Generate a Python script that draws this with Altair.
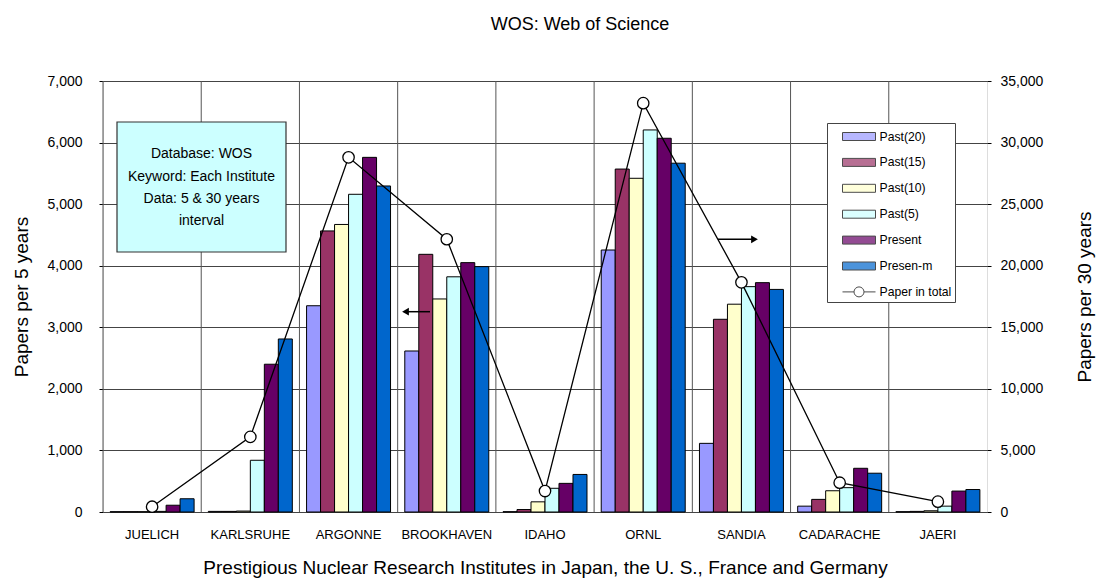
import altair as alt
import pandas as pd

categories = ["JUELICH", "KARLSRUHE", "ARGONNE", "BROOKHAVEN", "IDAHO",
              "ORNL", "SANDIA", "CADARACHE", "JAERI"]
series_names = ["Past(20)", "Past(15)", "Past(10)", "Past(5)", "Present", "Presen-m"]
past20 = [5, 10, 3350, 2615, 5, 4255, 1115, 95, 5]
past15 = [5, 10, 4565, 4185, 40, 5570, 3130, 205, 10]
past10 = [5, 15, 4670, 3460, 165, 5420, 3375, 345, 20]
past5 = [10, 840, 5160, 3820, 385, 6205, 3660, 395, 95]
present = [110, 2400, 5760, 4050, 465, 6070, 3725, 710, 340]
presen_m = [215, 2810, 5295, 3985, 610, 5665, 3615, 630, 365]
line_name = "Paper in total"
total = [430, 6100, 28800, 22150, 1700, 33200, 18650, 2380, 840]
bar_colors = ["#9999FF", "#993366", "#FFFFCC", "#CCFFFF", "#660066", "#0066CC"]
left_ticks = [0, 1000, 2000, 3000, 4000, 5000, 6000, 7000]
right_ticks = [0, 5000, 10000, 15000, 20000, 25000, 30000, 35000]
note_text = "Database: WOS\nKeyword: Each Institute\nData: 5 & 30 years\ninterval"

rows = []
for s, vals in zip(series_names, [past20, past15, past10, past5, present, presen_m]):
    for c, v in zip(categories, vals):
        rows.append({"institute": c, "series": s, "value": v})
bars_df = pd.DataFrame(rows)
line_df = pd.DataFrame({"institute": categories, "total": total})
cat_df = pd.DataFrame({"institute": categories})

W, H = 884, 431
FONT = "Liberation Sans"
PI = 0.145
STEP = W / len(categories)

legend_domain = series_names + [line_name]
rect_path = "M-1.65,-0.4H1.65V0.4H-1.65Z"
line_path = ("M-1.65,0H-0.5M0.5,0H1.65M-0.5,0A0.5,0.5 0 1 1 0.5,0"
             "A0.5,0.5 0 1 1 -0.5,0Z")
color_scale = alt.Scale(domain=legend_domain, range=bar_colors + ["white"])
shape_scale = alt.Scale(domain=legend_domain, range=[rect_path] * 6 + [line_path])

legend = alt.Legend(title=None, orient="none", legendX=724, legendY=42,
                    direction="vertical", symbolSize=400,
                    symbolStrokeColor="black", symbolStrokeWidth=1,
                    symbolOffset=18.5,
                    labelFontSize=12.2, labelFont=FONT, labelOffset=10,
                    labelColor="black", labelLimit=300,
                    labelExpr="datum.label + '\u00a0\u00a0'",
                    padding=3, rowPadding=8.9,
                    strokeColor="#444", fillColor="white")

xscale = alt.Scale(domain=categories, paddingInner=PI, paddingOuter=PI / 2)
xaxis = alt.Axis(title="Prestigious Nuclear Research Institutes in Japan, the U. S., France and Germany",
                 labelAngle=0, ticks=False, domain=False, grid=False,
                 labelFontSize=13, labelPadding=16.5, titleFontSize=19,
                 titlePadding=17, titleFontWeight="normal", labelColor="black",
                 titleColor="black", labelFont=FONT, titleFont=FONT)


def mk_x(**kw):
    return alt.X("institute:N", scale=xscale, sort=categories, axis=xaxis, **kw)


grid_rules = alt.Chart(cat_df).mark_rule(color="#555", strokeWidth=1,
                                         xOffset=-PI * STEP / 2).encode(
    x=mk_x(bandPosition=0)
)

bars = alt.Chart(bars_df).mark_bar(stroke="black", strokeWidth=1).encode(
    x=mk_x(),
    xOffset=alt.XOffset("series:N", sort=series_names,
                        scale=alt.Scale(domain=series_names, paddingInner=0, paddingOuter=0)),
    y=alt.Y("value:Q", scale=alt.Scale(domain=[0, 7000], nice=False),
            axis=alt.Axis(title="Papers per 5 years", orient="left", format=",d",
                          values=left_ticks, grid=True, gridColor="#444",
                          gridWidth=1, domain=False, tickSize=4, tickColor="black",
                          labelPadding=17, labelFontSize=14, titleFontSize=19,
                          titleFontWeight="normal", titlePadding=15,
                          labelColor="black", titleColor="black",
                          labelFont=FONT, titleFont=FONT)),
    color=alt.Color("series:N", scale=color_scale, legend=legend),
)

legend_layer = alt.Chart(alt.Data(values=[])).mark_point(
    filled=True, stroke="black", strokeWidth=1
).encode(
    color=alt.Color("series:N", scale=color_scale, legend=legend),
    shape=alt.Shape("series:N", scale=shape_scale, legend=legend),
)

line = alt.Chart(line_df).mark_line(
    color="black", strokeWidth=1.3,
    point=alt.OverlayMarkDef(filled=True, fill="white", stroke="black",
                             strokeWidth=1.3, size=130, opacity=1),
).encode(
    x=mk_x(),
    y=alt.Y("total:Q", scale=alt.Scale(domain=[0, 35000], nice=False),
            axis=alt.Axis(title="Papers per 30 years", orient="right", format=",d",
                          values=right_ticks, grid=False, domain=False, tickSize=4,
                          tickColor="black", labelPadding=9, labelFontSize=14,
                          titleFontSize=19, titleFontWeight="normal", titlePadding=52,
                          titleAngle=270,
                          labelColor="black", titleColor="black",
                          labelFont=FONT, titleFont=FONT)),
)

one = alt.Data(values=[{}])
note_box = alt.Chart(one).mark_rect(fill="#CCFFFF", stroke="#333", strokeWidth=1.2).encode(
    x=alt.value(14), x2=alt.value(183), y=alt.value(41), y2=alt.value(171)
)
note = alt.Chart(one).mark_text(text=note_text, lineBreak="\n", lineHeight=22.3,
                                fontSize=14, font=FONT, align="center",
                                baseline="alphabetic", color="black").encode(
    x=alt.value(98.5), y=alt.value(77.3)
)
arrow_l = alt.Chart(one).mark_rule(color="black", strokeWidth=1.5).encode(
    x=alt.value(302), x2=alt.value(327), y=alt.value(230.7)
)
head_l = alt.Chart(one).mark_point(shape="triangle-left", filled=True, color="black",
                                   size=60, opacity=1).encode(
    x=alt.value(302.5), y=alt.value(230.7)
)
arrow_r = alt.Chart(one).mark_rule(color="black", strokeWidth=1.5).encode(
    x=alt.value(615), x2=alt.value(652), y=alt.value(158.3)
)
head_r = alt.Chart(one).mark_point(shape="triangle-right", filled=True, color="black",
                                   size=60, opacity=1).encode(
    x=alt.value(651.5), y=alt.value(158.3)
)

chart = alt.layer(
    grid_rules, note_box, note, bars, legend_layer, line,
    arrow_l, head_l, arrow_r, head_r
).resolve_scale(y="independent").properties(
    width=W, height=H,
    autosize=alt.AutoSizeParams(type="none"),
    padding={"left": 95, "top": 73, "right": 109, "bottom": 66},
    title=alt.TitleParams("WOS: Web of Science", fontSize=18, fontWeight="normal",
                          anchor="middle", frame="group", dx=35, offset=40,
                          font=FONT, color="black"),
).configure_view(stroke="black", strokeWidth=1).configure(font=FONT)

chart.save("out.html", embed_options={"renderer": "svg", "actions": False})
